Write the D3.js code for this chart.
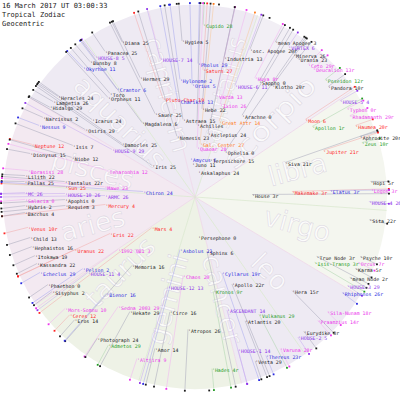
<!DOCTYPE html>
<meta charset="utf-8">
<head>
	<title>16 March 2017 - Tropical Zodiac wheel</title>
</head>

<style>
body{
	margin: 0;
	background: #fff;
}
svg{
	display: block;
}
.hdr{
	font-family: "DejaVu Sans Mono", monospace;
	font-size: 7px;
	fill: #222;
}
.lbl{
	font-family: "DejaVu Sans Mono", monospace;
	font-size: 4.9px;
}
.sign{
	font-family: "DejaVu Sans", sans-serif;
	font-size: 27px;
	fill: #fff;
	fill-opacity: 0.75;
	stroke: #dbd6e1;
	stroke-width: 0.5;
}
</style>

<body>
<svg id="chart" width="400" height="395"></svg>

<script src="https://cdnjs.cloudflare.com/ajax/libs/d3/7.8.5/d3.min.js"></script>
<script>

var headerLines = ['16 March 2017 UT 03:00:33', 'Tropical Zodiac', 'Geocentric'];

// body names, degree in sign, colour group (k plain, b centaur, r planet, m tno, p house/angle, g uranian, o galactic)
var bodies = ['Diana','Panacea','HOUSE-8','Bunsby','Okyrhoe','Crantor','Toro','Orpheus','Heracles','Lampetia',
	'Hidalgo','Narcissus','Icarus','Nessus','Osiris','Cupido','Hygiea','Industria','osc. Apogee','mean Apogee',
	'VERTEX','HOUSE-7','Pholus','Saturn','Hermes','Hylonome','Orius','Huya','HOUSE-6','Sappho',
	'Klotho','Varda','Pluto-Char','Chariklo','Ixion','Hebe','Sauer','Arachne','Magdalena','Astraea',
	'Achilles','Great Attr','Minerva','Urania','Ceto','Deucalion','Poseidon','Pandora','HOUSE-5','Typhon',
	'Rhadamanth','Moon','Apollon','Haumea','Aphrodite','Zeus','Jupiter','Siva','Hopi','Makemake',
	'Elatus','Logos','HOUSE-4','Sita','House','True Node','Psyche','Isis-Transp','Orcus','Karma',
	'mean Node','HOUSE-3','Rhiphonos','Hera','Sila-Nunam','Praamzius','Vulkanus','Atlantis','Eurydike','HOUSE-2',
	'Varuna','Thereus','Vesta','Memoria','Chaos','Cyllarus','HOUSE-12','Apollo','Kronos','ASCENDANT',
	'Sedna 2003','Hekate','Circe','Atropos','Amor','HOUSE-1','Altjira','Hades','Kassandra','Echeclus',
	'Pelion','HOUSE-11','Phaethon','Sisyphus','Bienor','Mors-Somnu','Ceres','Eros','Photograph','Admetos',
	'Neptune','Isis','Damocles','HOUSE-9','Dionysus','Niobe','Borasisi','Teharonhia','Lilith','Pallas',
	'Tantalus','Sun','Mawe','MC','HOUSE-10','ARMC','Salacia','Apophis','Mercury','Hybris',
	'Requiem','Bacchus','Venus','Eris','Child','Hephaistos','Uranus','1992 QB1','Itokawa','Nemesis',
	'Asclepius','Gal. Center','Quaoar','Ophelia','Amycus','Terpsichore','Juno','Iris','Askalaphus','Chiron',
	'Mars','Persephone','Asbolus','Sphinx'];

var degrees = ['25','25','5','8','11','6','','11','24','26',
	'29','2','24','9','29','28','5','13','20r','3',
	'6','14','29','27','29','2','5','8r','11','0',
	'20r','13','19','13','26','22','25','0','6','15',
	'','14','26','23','29r','13r','12r','10r','4','0r',
	'29r','6','1r','20r','20r','10r','21r','21r','5r','3r',
	'3r','3r','26','22r','3r','3r','10r','3r','7r','5r',
	'2r','29','26r','15r','18r','14r','29','20','8r','5',
	'28r','23r','29','16','20','19r','13','22r','9r','14',
	'29','29','16','26','14','14','9','4r','22','29',
	'2','4','0','2','16','10','12','14','24','29',
	'12','7','25','29','15','12','28','12','22','25',
	'22r','25','23','26','26','26','0','0','4','2',
	'3','4','10r','22','13','16','22','3','19','23',
	'24','27','28','0','6','15','11','25','24','24',
	'4','0','21','6'];

var groups = ['k','k','p','k','b','b','k','k','k','k',
	'k','k','k','b','k','g','k','k','k','k',
	'p','p','b','r','k','b','b','m','p','k',
	'k','m','r','b','m','k','k','k','k','k',
	'k','o','k','k','m','m','g','k','p','m',
	'm','r','g','r','k','g','r','k','k','r',
	'b','m','p','k','k','k','k','g','m','k',
	'k','p','b','k','m','m','g','k','k','p',
	'm','b','k','k','m','b','p','k','g','p',
	'm','k','k','k','k','p','m','g','k','b',
	'b','p','k','k','b','m','r','k','k','g',
	'r','k','k','p','k','k','m','m','k','k',
	'k','r','m','p','p','p','m','k','r','k',
	'k','k','r','r','k','k','r','m','k','k',
	'k','o','m','k','b','k','k','k','k','b',
	'r','k','b','k'];

// ecliptic longitude at which each label sits (degrees, 0 = 0 Aries)
var longitudes = [295.4,302.0,305.7,308.1,311.2,306.3,309.8,311.6,324.1,326.5,
	328.7,332.8,323.6,335.8,329.0,267.3,274.8,258.1,249.4,242.4,
	238.0,284.3,268.7,266.4,295.0,277.4,271.5,243.1,250.0,240.7,
	234.8,258.1,288.3,280.3,254.6,265.4,296.0,239.6,306.0,279.0,
	268.4,252.0,235.2,233.1,229.2,226.9,221.7,219.3,213.2,209.8,
	207.3,214.6,210.5,203.6,199.7,197.6,199.4,200.1,184.6,182.4,
	182.1,182.0,178.0,172.1,181.0,153.4,159.7,150.8,157.7,155.5,
	152.1,149.4,146.6,135.6,138.7,134.5,118.3,111.8,128.7,126.0,
	119.1,113.9,110.0,48.0,81.5,109.3,73.5,112.6,100.7,105.6,
	55.3,60.7,77.8,87.0,75.3,105.6,70.4,95.6,23.3,26.4,
	33.1,35.7,31.2,33.9,47.8,41.0,43.6,45.9,55.6,59.9,
	342.6,337.7,324.5,331.0,345.7,342.8,351.5,344.1,353.3,355.3,
	353.9,356.0,354.4,359.0,359.1,0.0,1.3,1.8,5.7,3.4,
	4.4,5.7,10.8,24.1,14.3,17.4,24.2,35.0,20.6,287.0,
	258.2,264.5,267.6,235.7,277.7,247.4,275.4,325.1,262.9,355.6,
	36.7,94.2,74.5,102.1];

// how far out each label was set, in wheel units (rim = 194)
var labelDist = [170,170,171,170,170,132,133,131,169,170,
	170,171,128,171,128,171,155,141,156,173,
	176,141,132,126,130,117,111,132,117,131,
	134,102,102,96,94,87,91,93,90,77,
	71,78,172,171,173,173,174,172,173,175,
	174,134,136,175,175,175,136,96,176,97,
	135,176,174,176,57,136,176,137,176,176,
	175,177,176,136,176,175,135,135,174,175,
	175,175,176,94,81,82,95,96,97,119,
	135,133,119,134,158,160,173,174,172,173,
	134,132,172,172,132,172,173,173,173,173,
	171,132,90,95,170,129,169,92,171,171,
	131,130,91,170,130,90,170,130,90,170,
	130,171,170,93,170,171,132,94,171,62,
	63,52,48,53,37,39,32,52,24,52,
	54,41,56,57];

// house cusps as ecliptic longitude (H1 .. H12)
var houseCusps = [104,125,149,176,214,251,284,305,329,356,34,73];
var houseTone = ['lav','lav','pale','pale','lite','lav','lav','lav','pink','pink','green','green'];

var signs = ['aries','taurus','gemini','cancer','leo','virgo','libra','scorpio','sagittarius','capricorn','aquarius','pisces'];

var tones = {lav: '#eeeaf3', lite: '#f2eff5', pale: '#f4f6ef', pink: '#f3e9f1', green: '#eef2e6'};
var textColor = {k: '#1c1c1c', b: '#2a2ae0', r: '#ff2424', m: '#ec34ec', p: '#8c32ea', g: '#229a22', o: '#ff7a1c'};
var lineColor = {k: '#a8a8bc', b: '#a8a8ee', r: '#f2acac', m: '#f0b4f0', p: '#c8acf0', g: '#acd4ac', o: '#f6c89c'};

var cx = 195, cy = 197, R = 194;

var svg = d3.select('#chart');

var theta = d3.scaleLinear().domain([0, 360]).range([Math.PI, 3 * Math.PI]);
var radius = d3.scaleLinear().domain([0, 194]).range([0, R]);

function px(lon, r){
	return cx + radius(r) * Math.cos(theta(lon));
}
function py(lon, r){
	return cy - radius(r) * Math.sin(theta(lon));
}

// wheel wedges, one per house
var wheel = svg.append('g').attr('transform', 'translate(' + cx + ',' + cy + ')');
var arc = d3.arc().innerRadius(0).outerRadius(radius(192));

houseCusps.forEach(function(c, i){
	var next = houseCusps[(i + 1) % 12];
	var span = (next - c + 360) % 360;
	wheel.append('path')
		.attr('d', arc({startAngle: Math.PI / 2 - theta(c + span), endAngle: Math.PI / 2 - theta(c)}))
		.attr('fill', tones[houseTone[i]]);
});

// cusp lines
svg.append('g').selectAll('line')
	.data(houseCusps)
	.enter()
	.append('line')
	.attr('x1', cx).attr('y1', cy)
	.attr('x2', function(d){ return px(d, 192); })
	.attr('y2', function(d){ return py(d, 192); })
	.attr('stroke', function(d, i){ return i % 2 ? '#dbe8cf' : '#eed6e8'; })
	.attr('stroke-width', 0.8);

// sign names laid along the radius
svg.append('g').selectAll('text')
	.data(signs)
	.enter()
	.append('text')
	.attr('class', 'sign')
	.attr('text-anchor', 'middle')
	.attr('dy', '0.35em')
	.attr('transform', function(d, k){
		var lon = 15 + 30 * k;
		var sa = (lon + 180) % 360;
		var rot = (sa > 90 && sa < 270) ? -(sa - 180) : -(sa > 180 ? sa - 360 : sa);
		return 'translate(' + px(lon, 106) + ',' + py(lon, 106) + ') rotate(' + rot + ')';
	})
	.attr('textLength', function(d){ return d.length > 6 ? 118 : null; })
	.attr('lengthAdjust', 'spacingAndGlyphs')
	.text(function(d){ return d; });

var items = bodies.map(function(name, i){
	return {name: name, deg: degrees[i], grp: groups[i], lon: longitudes[i], dist: labelDist[i]};
});

// spokes from each label to the rim (the labels packed round the centre have none)
svg.append('g').selectAll('line')
	.data(items.filter(function(d){ return d.dist >= 45; }))
	.enter()
	.append('line')
	.attr('x1', function(d){ return px(d.lon, d.dist); })
	.attr('y1', function(d){ return py(d.lon, d.dist) - 1.5; })
	.attr('x2', function(d){ return px(d.lon, 194); })
	.attr('y2', function(d){ return py(d.lon, 194); })
	.attr('stroke', function(d){ return lineColor[d.grp]; })
	.attr('stroke-width', 0.55);

// rim dots
svg.append('g').selectAll('rect')
	.data(items)
	.enter()
	.append('rect')
	.attr('x', function(d){ return px(d.lon, 194) - 0.9; })
	.attr('y', function(d){ return py(d.lon, 194) - 0.9; })
	.attr('width', 1.8)
	.attr('height', 1.8)
	.attr('fill', function(d){ return textColor[d.grp]; });

// labels
svg.append('g').selectAll('text')
	.data(items)
	.enter()
	.append('text')
	.attr('class', 'lbl')
	.attr('x', function(d){ return px(d.lon, d.dist); })
	.attr('y', function(d){ return py(d.lon, d.dist) + 1.8; })
	.attr('fill', function(d){ return textColor[d.grp]; })
	.text(function(d){
		if(d.deg === '')
			return "'" + d.name;
		var pad = /^\d(r)?$/.test(d.deg) ? '  ' : ' ';
		return "'" + d.name + pad + d.deg;
	});

// header
svg.append('g').selectAll('text')
	.data(headerLines)
	.enter()
	.append('text')
	.attr('class', 'hdr')
	.attr('x', 2)
	.attr('y', function(d, i){ return 7.5 + i * 9.2; })
	.text(function(d){ return d; });

</script>
</body>
</html>
